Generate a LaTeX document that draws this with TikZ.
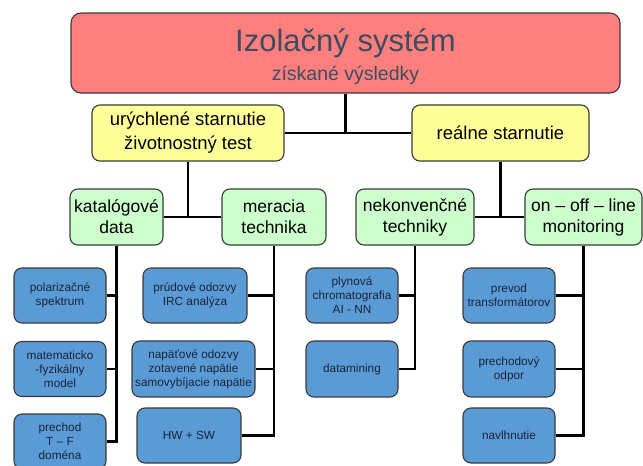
\documentclass[tikz,border=0pt]{standalone}
\usepackage{fontspec}
\setmainfont{Liberation Sans}
\definecolor{redfill}{HTML}{FF7F7F}
\definecolor{titletext}{HTML}{3E4C60}
\definecolor{yellowfill}{HTML}{FFFF99}
\definecolor{greenfill}{HTML}{CCFFCC}
\definecolor{bluefill}{HTML}{5B9BD5}
\definecolor{bluetext}{HTML}{16233A}
\definecolor{boxborder}{HTML}{3A3A3A}
\begin{document}
\begin{tikzpicture}[x=1pt,y=-1pt,
  box/.style={draw=boxborder, line width=1.1pt, rounded corners=8pt, inner sep=0pt, align=center, anchor=center},
  topbox/.style={box, fill=redfill, rounded corners=10pt, text=titletext},
  ybox/.style={box, fill=yellowfill, font=\fontsize{18.5}{24}\selectfont},
  gbox/.style={box, fill=greenfill, font=\fontsize{17.5}{21}\selectfont},
  bbox/.style={box, fill=bluefill, text=bluetext, font=\fontsize{11.8}{14}\selectfont},
  conn/.style={line width=2.2pt, black}
]
\useasboundingbox (0,0) rectangle (643,466);
\begin{scope}
\clip (0,0) rectangle (643,466);
\node[topbox, minimum width=549pt, minimum height=80pt] (top) at (345.5,53) {};
\node[text=titletext, font=\fontsize{31}{31}\selectfont, anchor=center] (title) at (345.5,43) {Izolačný systém};
\node[text=titletext, font=\fontsize{19.5}{19.5}\selectfont, anchor=center] (sub) at (345.5,75) {získané výsledky};

\node[ybox, minimum width=192pt, minimum height=56pt] (y1) at (188,133) {urýchlené starnutie\\životnostný test};
\node[ybox, minimum width=177pt, minimum height=56pt] (y2) at (500.5,133) {reálne starnutie};

\node[gbox, minimum width=93pt, minimum height=56pt] (g1) at (116.5,217) {katalógové\\data};
\node[gbox, minimum width=104pt, minimum height=56pt] (g2) at (274,217) {meracia\\technika};
\node[gbox, minimum width=118pt, minimum height=56pt] (g3) at (415,217) {nekonvenčné\\techniky};
\node[gbox, minimum width=117pt, minimum height=56pt] (g4) at (583.5,217) {on – off – line\\monitoring};

\node[bbox, minimum width=92pt, minimum height=55pt] (b1) at (60,295.5) {polarizačné\\spektrum};
\node[bbox, minimum width=92pt, minimum height=55pt] (b2) at (60,369) {matematicko\\-fyzikálny\\model};
\node[bbox, minimum width=92pt, minimum height=55pt] (b3) at (60,441.5) {prechod\\T – F\\doména};

\node[bbox, minimum width=104pt, minimum height=55pt] (m1) at (195,295.5) {prúdové odozvy\\IRC analýza};
\node[bbox, minimum width=123pt, minimum height=56pt] (m2) at (193.5,369) {napäťové odozvy\\zotavené napätie\\samovybíjacie napätie};
\node[bbox, minimum width=104pt, minimum height=55pt] (m3) at (189,435.5) {HW + SW};

\node[bbox, minimum width=92pt, minimum height=55pt] (n1) at (352,295.5) {plynová\\chromatografia\\AI - NN};
\node[bbox, minimum width=92pt, minimum height=56pt] (n2) at (352,369) {datamining};

\node[bbox, minimum width=92pt, minimum height=55pt] (o1) at (509,295.5) {prevod\\transformátorov};
\node[bbox, minimum width=92pt, minimum height=56pt] (o2) at (509,369) {prechodový\\odpor};
\node[bbox, minimum width=92pt, minimum height=55pt] (o3) at (509,435.5) {navlhnutie};

% connectors
\draw[conn] (top.south) -- (top.south |- y1.east);
\draw[conn] (y1.east) -- (y2.west);
\draw[conn] (y1.south) -- (y1.south |- g1.east);
\draw[conn] (g1.east) -- (g2.west);
\draw[conn] (y2.south) -- (y2.south |- g3.east);
\draw[conn] (g3.east) -- (g4.west);

\draw[conn] (g1.south) |- (b3.east);
\draw[conn] (b1.east) -- (b1.east -| g1.south);
\draw[conn] (b2.east) -- (b2.east -| g1.south);

\draw[conn] (g2.south) |- (m3.east);
\draw[conn] (m1.east) -- (m1.east -| g2.south);
\draw[conn] (m2.east) -- (m2.east -| g2.south);

\draw[conn] (g3.south) |- (n2.east);
\draw[conn] (n1.east) -- (n1.east -| g3.south);

\draw[conn] (g4.south) |- (o3.east);
\draw[conn] (o1.east) -- (o1.east -| g4.south);
\draw[conn] (o2.east) -- (o2.east -| g4.south);
\end{scope}
\end{tikzpicture}
\end{document}
